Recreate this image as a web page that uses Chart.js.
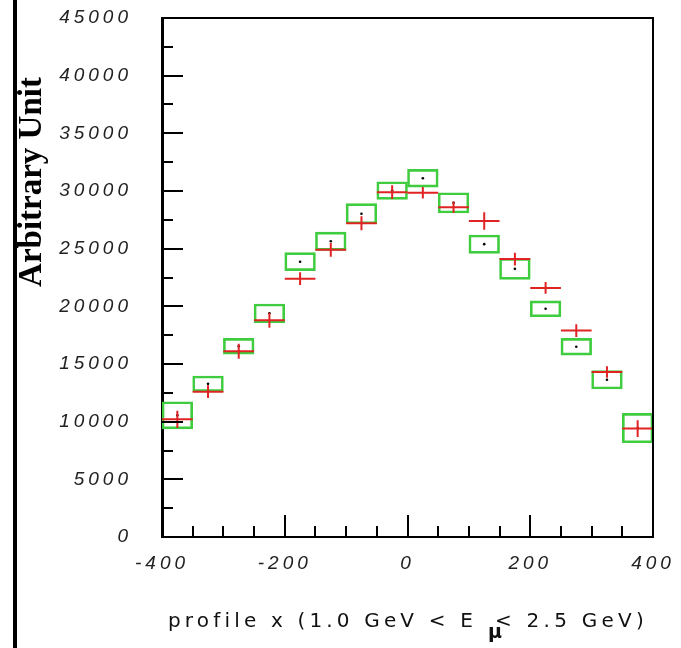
<!DOCTYPE html>
<html>
<head>
<meta charset="utf-8">
<script src="https://cdn.jsdelivr.net/npm/chart.js@4/dist/chart.umd.min.js"></script>
<style>
  html, body { margin: 0; padding: 0; background: #ffffff; }
  canvas { display: block; }
</style>
</head>
<body>
<canvas id="profile" width="681" height="648"></canvas>
<script>
// Bin centres of the x profile (bins are 50 wide, from -400 to 400)
const binCenters = [-375, -325, -275, -225, -175, -125, -75, -25, 25, 75, 125, 175, 225, 275, 325, 375];
const binHalfWidth = 25;

// Simulation: value and error (green boxes, black centre dots)
const mcValues = [10550, 13280, 16540, 19390, 23870, 25640, 28030, 30040, 31110, 28970, 25390, 23250, 19790, 16500, 13630, 9450];
const mcErrors = [1180, 680, 680, 810, 780, 790, 870, 760, 770, 880, 795, 910, 690, 725, 795, 1275];

// Measured data: value and error (red crosses)
const dataValues = [10200, 12600, 16100, 18800, 22400, 24900, 27200, 29900, 29850, 28600, 27400, 24100, 21600, 17900, 14300, 9400];
const dataErrors = [740, 550, 650, 650, 550, 600, 600, 600, 500, 500, 750, 550, 500, 550, 500, 720];

// Axis ranges, tick steps and labels
const xRange = [-400, 400];
const yRange = [0, 45000];
const xMajorStep = 200, xMinorStep = 50;
const yMajorStep = 5000, yMinorStep = 2500;
const yTitle = 'Arbitrary Unit';
const xTitleMain = 'profile x (1.0 GeV < E';
const xTitleSub = 'μ';
const xTitleTail = '< 2.5 GeV)';

const GREEN = '#3fcc3f';
const RED = '#e02424';
const TICK_SPACING = '4px';

// Wide, spaced-out tick lettering
const spacingPlugin = {
  id: 'letterSpacing',
  beforeLayout(chart) { chart.ctx.letterSpacing = TICK_SPACING; },
  beforeDraw(chart) { chart.ctx.letterSpacing = TICK_SPACING; }
};

// Data points drawn as crosses: horizontal bar = bin width, vertical bar = error
const crossPlugin = {
  id: 'dataCrosses',
  afterDatasetsDraw(chart) {
    const { ctx, scales: { x, y } } = chart;
    ctx.save();
    ctx.strokeStyle = RED;
    ctx.lineWidth = 2;
    binCenters.forEach((c, i) => {
      const px = x.getPixelForValue(c);
      const pl = x.getPixelForValue(c - binHalfWidth);
      const pr = x.getPixelForValue(c + binHalfWidth);
      const py = y.getPixelForValue(dataValues[i]);
      const pt = y.getPixelForValue(dataValues[i] + dataErrors[i]);
      const pb = y.getPixelForValue(dataValues[i] - dataErrors[i]);
      ctx.beginPath();
      ctx.moveTo(pl, py); ctx.lineTo(pr, py);
      ctx.moveTo(px, pt); ctx.lineTo(px, pb);
      ctx.stroke();
    });
    ctx.restore();
  }
};

// Frame, inward tick marks and axis titles
const framePlugin = {
  id: 'frameAndTitles',
  afterDraw(chart) {
    const { ctx, chartArea: { left, top, right, bottom }, scales: { x, y } } = chart;
    ctx.save();
    ctx.letterSpacing = '0px';
    ctx.strokeStyle = '#000';
    ctx.lineCap = 'butt';

    // top and right edges of the frame
    ctx.lineWidth = 2;
    ctx.beginPath();
    ctx.moveTo(left, top); ctx.lineTo(right, top); ctx.lineTo(right, bottom);
    ctx.stroke();

    // y ticks pointing into the plot
    for (let v = yRange[0]; v <= yRange[1]; v += yMinorStep) {
      const py = Math.round(y.getPixelForValue(v));
      const len = v % yMajorStep === 0 ? 21 : 11;
      ctx.beginPath(); ctx.moveTo(left, py); ctx.lineTo(left + len, py); ctx.stroke();
    }
    // x ticks pointing into the plot
    for (let v = xRange[0]; v <= xRange[1]; v += xMinorStep) {
      const px = Math.round(x.getPixelForValue(v));
      const len = v % xMajorStep === 0 ? 22 : 11;
      ctx.beginPath(); ctx.moveTo(px, bottom); ctx.lineTo(px, bottom - len); ctx.stroke();
    }

    // left page rule
    ctx.fillStyle = '#000';
    ctx.fillRect(13, 0, 4, chart.height);

    // y title, rotated
    ctx.save();
    ctx.translate(41, 182);
    ctx.rotate(-Math.PI / 2);
    ctx.font = 'bold 33px "Liberation Serif", "DejaVu Serif", serif';
    ctx.textAlign = 'center';
    ctx.textBaseline = 'alphabetic';
    ctx.fillText(yTitle, 0, 0);
    ctx.restore();

    // x title with the muon subscript
    const drawSpaced = (text, x0, base, width) => {
      ctx.letterSpacing = '0px';
      const w = ctx.measureText(text).width;
      ctx.letterSpacing = ((width - w) / text.length) + 'px';
      ctx.fillText(text, x0, base);
      ctx.letterSpacing = '0px';
    };
    ctx.textAlign = 'left';
    ctx.textBaseline = 'alphabetic';
    ctx.fillStyle = '#111';
    ctx.font = '20px "DejaVu Sans", sans-serif';
    drawSpaced(xTitleMain, 168, 627, 309);
    drawSpaced(xTitleTail, 495, 627, 153);
    ctx.font = 'bold 19px "DejaVu Sans", sans-serif';
    ctx.fillText(xTitleSub, 488, 638);

    ctx.restore();
  }
};

const tickFont = { family: '"Liberation Sans", Arial, sans-serif', style: 'italic', size: 19 };

new Chart(document.getElementById('profile'), {
  type: 'bar',
  data: {
    datasets: [
      {
        type: 'bar',
        label: 'simulation',
        data: binCenters.map((c, i) => ({ x: c, y: [mcValues[i] - mcErrors[i], mcValues[i] + mcErrors[i]] })),
        backgroundColor: 'rgba(0,0,0,0)',
        borderColor: GREEN,
        borderWidth: 2,
        borderSkipped: false,
        barPercentage: 1,
        categoryPercentage: 1,
        grouped: false,
        order: 2
      },
      {
        type: 'scatter',
        label: 'simulation value',
        data: binCenters.map((c, i) => ({ x: c, y: mcValues[i] })),
        pointRadius: 1.3,
        pointBackgroundColor: '#000',
        pointBorderWidth: 0,
        order: 1
      }
    ]
  },
  options: {
    responsive: false,
    animation: false,
    devicePixelRatio: 1,
    layout: { padding: { left: 0, top: 18, right: 28, bottom: 0 } },
    plugins: { legend: { display: false }, tooltip: { enabled: false } },
    scales: {
      x: {
        type: 'linear',
        min: xRange[0], max: xRange[1],
        offset: false,
        grid: { display: false, drawTicks: false },
        border: { display: true, color: '#000', width: 2 },
        ticks: {
          stepSize: xMajorStep,
          padding: 15,
          color: '#222',
          font: tickFont,
          maxRotation: 0,
          callback: v => String(v)
        },
        afterFit(scale) {
          scale.height = 111;
          scale.paddingLeft = 0;
          scale.paddingRight = 0;
        }
      },
      y: {
        type: 'linear',
        min: yRange[0], max: yRange[1],
        grid: { display: false, drawTicks: false },
        border: { display: true, color: '#000', width: 3 },
        ticks: {
          stepSize: yMajorStep,
          padding: 30,
          color: '#222',
          font: tickFont,
          callback: v => String(v)
        },
        afterFit(scale) {
          scale.width = 162;
          scale.paddingTop = 0;
          scale.paddingBottom = 0;
        }
      }
    }
  },
  plugins: [spacingPlugin, crossPlugin, framePlugin]
});
</script>
</body>
</html>
